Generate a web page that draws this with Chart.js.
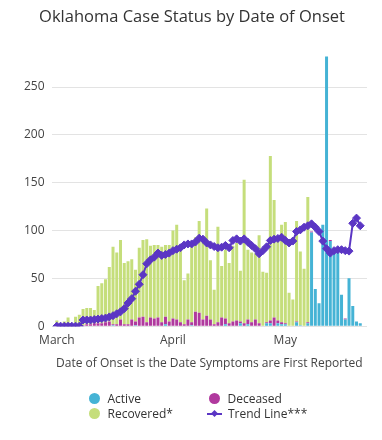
<!DOCTYPE html>
<html>

<head>
    <meta charset="utf-8">
    <title>Oklahoma Case Status by Date of Onset</title>
    <script src="https://cdn.jsdelivr.net/npm/chart.js@4.4.0/dist/chart.umd.min.js"></script>
    <style>
        body {
            margin: 0;
            background: #fff;
            font-family: 'Open Sans', sans-serif;
        }

        #wrap {
            position: relative;
            width: 382px;
            height: 440px;
        }

        .legend-item {
            position: absolute;
            height: 15px;
            line-height: 15px;
            font-size: 12px;
            color: #333;
            display: flex;
            align-items: center;
            white-space: nowrap;
        }

        .dot {
            display: inline-block;
            width: 11px;
            height: 11px;
            border-radius: 50%;
            margin-right: 7.5px;
        }

        .trend-mark {
            position: relative;
            display: inline-block;
            width: 15px;
            height: 15px;
            margin-right: 6px;
        }

        .trend-mark .bar {
            position: absolute;
            left: 0;
            top: 6.5px;
            width: 15px;
            height: 2px;
            background: #5b36c4;
        }

        .trend-mark .diamond {
            position: absolute;
            left: 5px;
            top: 5px;
            width: 5px;
            height: 5px;
            background: #5b36c4;
            transform: rotate(45deg);
        }
    </style>
</head>

<body>
    <div id="wrap">
        <canvas id="onsetChart" width="382" height="440"></canvas>

        <div class="legend-item" style="left:89px; top:391px;"><span class="dot" style="background:#45b3d5;"></span>Active</div>
        <div class="legend-item" style="left:209px; top:391px;"><span class="dot" style="background:#b0399e;"></span>Deceased</div>
        <div class="legend-item" style="left:89px; top:406px;"><span class="dot" style="background:#c5de7b;"></span>Recovered*</div>
        <div class="legend-item" style="left:207px; top:406px;"><span class="trend-mark"><span class="bar"></span><span class="diamond"></span></span>Trend Line***</div>
    </div>

    <script>
        // day 0 = March 1
        const tickDays = [0, 31, 61];
        const tickLabels = ['March', 'April', 'May'];

        const activeCases = [0, 0, 0, 0, 0, 0, 0, 0, 0, 0,
            0, 0, 0, 0, 0, 1, 0, 0, 0, 0,
            0, 1, 0, 0, 0, 0, 0, 0, 0, 2,
            0, 0, 0, 0, 0, 0, 1, 0, 0, 0,
            0, 0, 0, 0, 0, 2, 0, 0, 0, 3,
            0, 2, 0, 0, 0, 0, 3, 3, 0, 3,
            2, 2, 0, 0, 4, 1, 0, 3, 98, 39,
            24, 106, 282, 89, 79, 77, 33, 7, 50, 21,
            5, 3];

        const deceasedCases = [0, 0, 0, 0, 0, 0, 0, 1, 2, 2,
            3, 3, 3, 4, 5, 1, 2, 7, 2, 2,
            7, 4, 9, 10, 4, 9, 8, 9, 4, 8,
            5, 8, 7, 4, 2, 7, 3, 15, 14, 7,
            11, 7, 2, 4, 9, 6, 3, 5, 6, 2,
            3, 5, 4, 7, 3, 0, 1, 3, 9, 3,
            2, 1, 0, 0, 1, 0, 0, 1, 1, 0,
            0, 0, 0, 1, 0, 0, 0, 1, 0, 0,
            0, 0];

        const recoveredCases = [6, 1, 5, 9, 1, 10, 12, 17, 17, 17,
            14, 39, 42, 45, 57, 81, 75, 83, 64, 66,
            63, 54, 73, 80, 87, 75, 77, 76, 79, 75,
            80, 92, 99, 80, 46, 48, 82, 78, 96, 86,
            112, 62, 36, 100, 54, 72, 63, 79, 81, 53,
            150, 73, 73, 69, 92, 57, 52, 172, 123, 84,
            102, 106, 35, 28, 105, 77, 60, 131, 0, 0,
            0, 0, 0, 0, 0, 0, 0, 0, 0, 0,
            0, 0];

        const trendLine = [0, 0, 0, 0, 0, 0, 0, 6.5, 6.5, 6.5,
            7, 7.5, 8, 8.5, 9.7, 11, 13, 15, 18.4, 24.3,
            28.8, 36.5, 43.8, 53.8, 65.3, 69.4, 72.2, 76.5, 74, 75,
            76.4, 79, 80.5, 82, 85, 86, 86, 88, 92, 91,
            87, 85, 83.3, 82, 82.6, 84.4, 82, 89.6, 91.3, 89,
            91.3, 87.8, 84.4, 81, 75.7, 79, 83, 89.6, 91, 91.7,
            93, 89.6, 87, 89, 99, 100.7, 103.5, 105, 107, 103.5,
            99, 89, 81, 76.4, 79, 80, 80, 79, 78.5, 107.6,
            113, 105];

        const toPoints = arr => arr.map((v, i) => ({ x: i, y: v }));

        Chart.defaults.font.family = "'Open Sans', sans-serif";
        Chart.defaults.font.size = 12;
        Chart.defaults.color = '#444';

        const ctx = document.getElementById('onsetChart').getContext('2d');
        new Chart(ctx, {
            type: 'bar',
            data: {
                datasets: [{
                    label: 'Active',
                    data: toPoints(activeCases),
                    backgroundColor: '#45b3d5',
                    stack: 'cases',
                    order: 1
                }, {
                    label: 'Deceased',
                    data: toPoints(deceasedCases),
                    backgroundColor: '#b0399e',
                    stack: 'cases',
                    order: 1
                }, {
                    label: 'Recovered*',
                    data: toPoints(recoveredCases),
                    backgroundColor: '#c5de7b',
                    stack: 'cases',
                    order: 1
                }, {
                    type: 'line',
                    label: 'Trend Line***',
                    data: toPoints(trendLine),
                    borderColor: '#5b36c4',
                    backgroundColor: '#5b36c4',
                    borderWidth: 2,
                    pointStyle: 'rectRot',
                    pointRadius: 4,
                    pointBorderWidth: 1,
                    tension: 0,
                    stack: 'trend',
                    order: 0
                }]
            },
            options: {
                responsive: false,
                animation: false,
                devicePixelRatio: 1,
                barPercentage: 0.8,
                categoryPercentage: 1,
                layout: {
                    padding: { left: 17, right: 15, top: 0, bottom: 65 }
                },
                plugins: {
                    legend: { display: false },
                    tooltip: { enabled: false },
                    title: {
                        display: true,
                        text: 'Oklahoma Case Status by Date of Onset',
                        color: '#333',
                        font: { size: 16.5, weight: 'normal' },
                        padding: { top: 7, bottom: 22 }
                    }
                },
                scales: {
                    x: {
                        type: 'linear',
                        min: -1.4,
                        max: 82.8,
                        offset: false,
                        grid: { display: false, offset: false, drawTicks: false },
                        border: { display: false },
                        afterBuildTicks: scale => {
                            scale.ticks = tickDays.map(d => ({ value: d }));
                        },
                        ticks: {
                            autoSkip: false,
                            maxRotation: 0,
                            padding: 7,
                            color: '#444',
                            callback: value => tickLabels[tickDays.indexOf(value)]
                        },
                        title: {
                            display: true,
                            text: 'Date of Onset is the Date Symptoms are First Reported',
                            color: '#444',
                            font: { size: 12 },
                            padding: { top: 2, bottom: 4 }
                        }
                    },
                    y: {
                        stacked: true,
                        min: 0,
                        max: 290,
                        afterBuildTicks: scale => {
                            scale.ticks = scale.ticks.filter(t => t.value % 50 === 0);
                        },
                        ticks: { stepSize: 50, padding: 7, color: '#444' },
                        grid: { color: '#e3e3e3', drawTicks: false },
                        border: { display: false }
                    }
                }
            }
        });
    </script>
</body>

</html>
